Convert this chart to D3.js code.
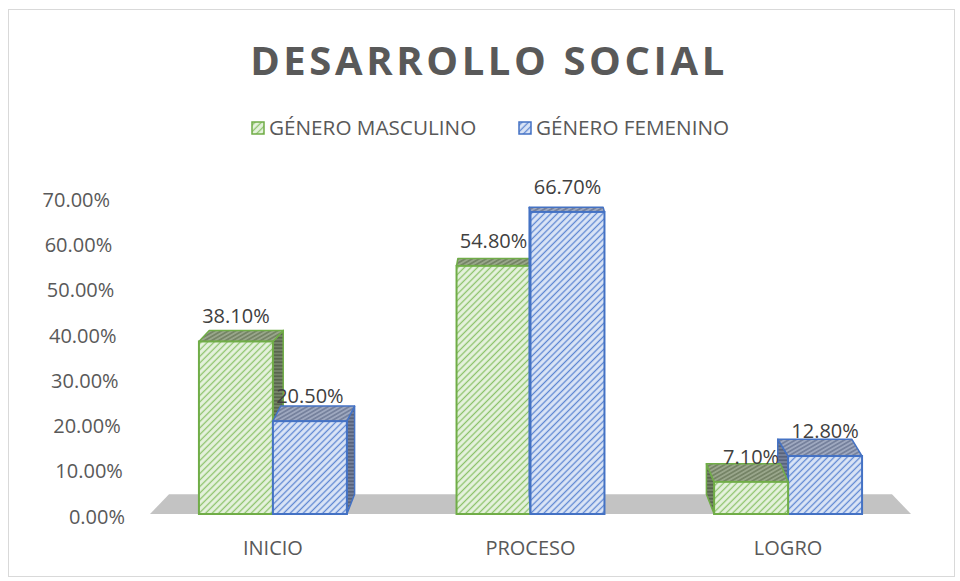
<!DOCTYPE html>
<html lang="es">
<head>
<meta charset="UTF-8">
<title>Desarrollo social</title>
<script src="https://d3js.org/d3.v7.min.js"></script>
<style>
  body { margin: 0; background: #fff; }
  text { font-family: "Open Sans", "Liberation Sans", sans-serif; }
  .tick text { fill: #595959; font-size: 20px; }
</style>
</head>
<body>
<svg id="chart" width="960" height="581"></svg>
<script>
// data
const categories = ["INICIO", "PROCESO", "LOGRO"];
const seriesNames = ["GÉNERO MASCULINO", "GÉNERO FEMENINO"];
const masculino = [38.1, 54.8, 7.1];
const femenino = [20.5, 66.7, 12.8];
const yTicks = [0, 10, 20, 30, 40, 50, 60, 70];

const W = 960, H = 581;
const svg = d3.select("#chart");

// colours per series: front, stripes, top, top stripes, side, side stripes, edge
const looks = [
  {bg: "#e6f2de", line: "#8cc26a", topBg: "#99a68b", topLine: "#5f6f50", sideBg: "#76846a", sideLine: "#4b583f", edge: "#70ad47"},
  {bg: "#dbe5f6", line: "#5d86d2", topBg: "#9ea8bf", topLine: "#5d6a88", sideBg: "#76819a", sideLine: "#4a5570", edge: "#4472c4"}
];

// chart frame
svg.append("rect")
  .attr("x", 8.5).attr("y", 9.5)
  .attr("width", W - 14).attr("height", H - 14)
  .attr("fill", "#fff").attr("stroke", "#d9d9d9");

// hatch patterns
const defs = svg.append("defs");
function hatch(id, bg, line, gap, angle, sw) {
  const p = defs.append("pattern")
    .attr("id", id)
    .attr("patternUnits", "userSpaceOnUse")
    .attr("width", gap).attr("height", gap)
    .attr("patternTransform", `rotate(${angle})`);
  p.append("rect").attr("width", gap).attr("height", gap).attr("fill", bg);
  p.append("line")
    .attr("x1", gap / 2).attr("x2", gap / 2)
    .attr("y1", 0).attr("y2", gap)
    .attr("stroke", line).attr("stroke-width", sw);
}
looks.forEach((c, i) => {
  hatch("front" + i, c.bg, c.line, 4.6, 45, 1.3);
  hatch("top" + i, c.topBg, c.topLine, 3.5, 60, 1.1);
  hatch("side" + i, c.sideBg, c.sideLine, 3.5, 90, 1.2);
});

// scales
const x0 = d3.scaleBand()
  .domain(categories)
  .range([150, 911])
  .paddingInner(0.4257)
  .paddingOuter(0.19);

const x1 = d3.scaleBand()
  .domain(d3.range(seriesNames.length))
  .range([0, x0.bandwidth()]);

const y = d3.scaleLinear()
  .domain([0, 70])
  .range([514, 197]);

// perspective helpers (Excel style 3D)
const vx = (x0.range()[0] + x0.range()[1]) / 2, vy = 120;
const kDepth = 0.05, kBarX = 0.035;
const depthY = yy => kDepth * (vy - yy);

// floor
const fx0 = x0.range()[0], fx1 = x0.range()[1], fy = y(0);
const floorPts = [
  [fx0, fy], [fx1, fy],
  [fx1 + kDepth * (vx - fx1), fy + depthY(fy)],
  [fx0 + kDepth * (vx - fx0), fy + depthY(fy)]
];
svg.append("polygon")
  .attr("points", floorPts.map(p => p.join(",")).join(" "))
  .attr("fill", "#c3c3c3");

// y axis, labels follow the slanted wall edge
const yAxis = svg.append("g")
  .call(d3.axisLeft(y).tickValues(yTicks).tickSize(0)
    .tickFormat(d => d.toFixed(2) + "%"));
yAxis.select(".domain").remove();
yAxis.selectAll(".tick text")
  .attr("x", d => 125 - 0.047 * (y(0) - y(d)))
  .attr("dy", "0.36em")
  .attr("transform", "translate(0,2)");

// x axis
const xAxis = svg.append("g")
  .attr("transform", "translate(0,548)")
  .call(d3.axisBottom(x0).tickSize(0));
xAxis.select(".domain").remove();
xAxis.selectAll(".tick text").attr("y", 0).attr("dy", "0.36em");

// bars
const bars = [];
categories.forEach((cat, ci) => {
  [masculino, femenino].forEach((vals, si) => {
    const xa = x0(cat) + x1(si), xb = xa + x1.bandwidth();
    bars.push({cat, si, v: vals[ci], xa, xb, xc: (xa + xb) / 2});
  });
});
bars.sort((a, b) => Math.abs(b.xc - vx) - Math.abs(a.xc - vx));

const barG = svg.append("g");
bars.forEach(b => {
  const yt = y(b.v), yb = y(0);
  const dx = kBarX * (vx - b.xc);
  const dyt = depthY(yt), dyb = depthY(yb);
  const g = barG.append("g");
  const sx = dx > 0 ? b.xb : b.xa;
  const edge = looks[b.si].edge;
  // side face
  g.append("polygon")
    .attr("points", [[sx, yt], [sx + dx, yt + dyt], [sx + dx, yb + dyb], [sx, yb]].map(p => p.join(",")).join(" "))
    .attr("fill", `url(#side${b.si})`)
    .attr("stroke", edge).attr("stroke-width", 1.5).attr("stroke-linejoin", "round");
  // top face
  g.append("polygon")
    .attr("points", [[b.xa, yt], [b.xb, yt], [b.xb + dx, yt + dyt], [b.xa + dx, yt + dyt]].map(p => p.join(",")).join(" "))
    .attr("fill", `url(#top${b.si})`)
    .attr("stroke", edge).attr("stroke-width", 1.5).attr("stroke-linejoin", "round");
  // front face
  g.append("rect")
    .attr("x", b.xa).attr("y", yt)
    .attr("width", b.xb - b.xa).attr("height", yb - yt)
    .attr("fill", `url(#front${b.si})`)
    .attr("stroke", edge).attr("stroke-width", 2);
});

// data labels
svg.append("g").selectAll("text")
  .data(bars)
  .join("text")
  .attr("x", d => d.xc)
  .attr("y", d => y(d.v) - 18)
  .attr("text-anchor", "middle")
  .attr("font-size", 20)
  .attr("fill", "#404040")
  .text(d => d.v.toFixed(2) + "%");

// title
svg.append("text")
  .attr("x", 489).attr("y", 75)
  .attr("text-anchor", "middle")
  .attr("font-size", 40)
  .attr("font-weight", "bold")
  .attr("letter-spacing", 3.6)
  .attr("fill", "#595959")
  .text("DESARROLLO SOCIAL");

// legend
const legendX = [252, 519];
const legend = svg.append("g").selectAll("g")
  .data(seriesNames)
  .join("g")
  .attr("transform", (d, i) => `translate(${legendX[i]},122)`);
legend.append("rect")
  .attr("width", 12).attr("height", 12)
  .attr("fill", (d, i) => `url(#front${i})`)
  .attr("stroke", (d, i) => looks[i].edge).attr("stroke-width", 1.5);
legend.append("text")
  .attr("x", 17).attr("y", 6)
  .attr("dy", "0.36em")
  .attr("font-size", 20.7)
  .attr("fill", "#595959")
  .text(d => d);
</script>
</body>
</html>
